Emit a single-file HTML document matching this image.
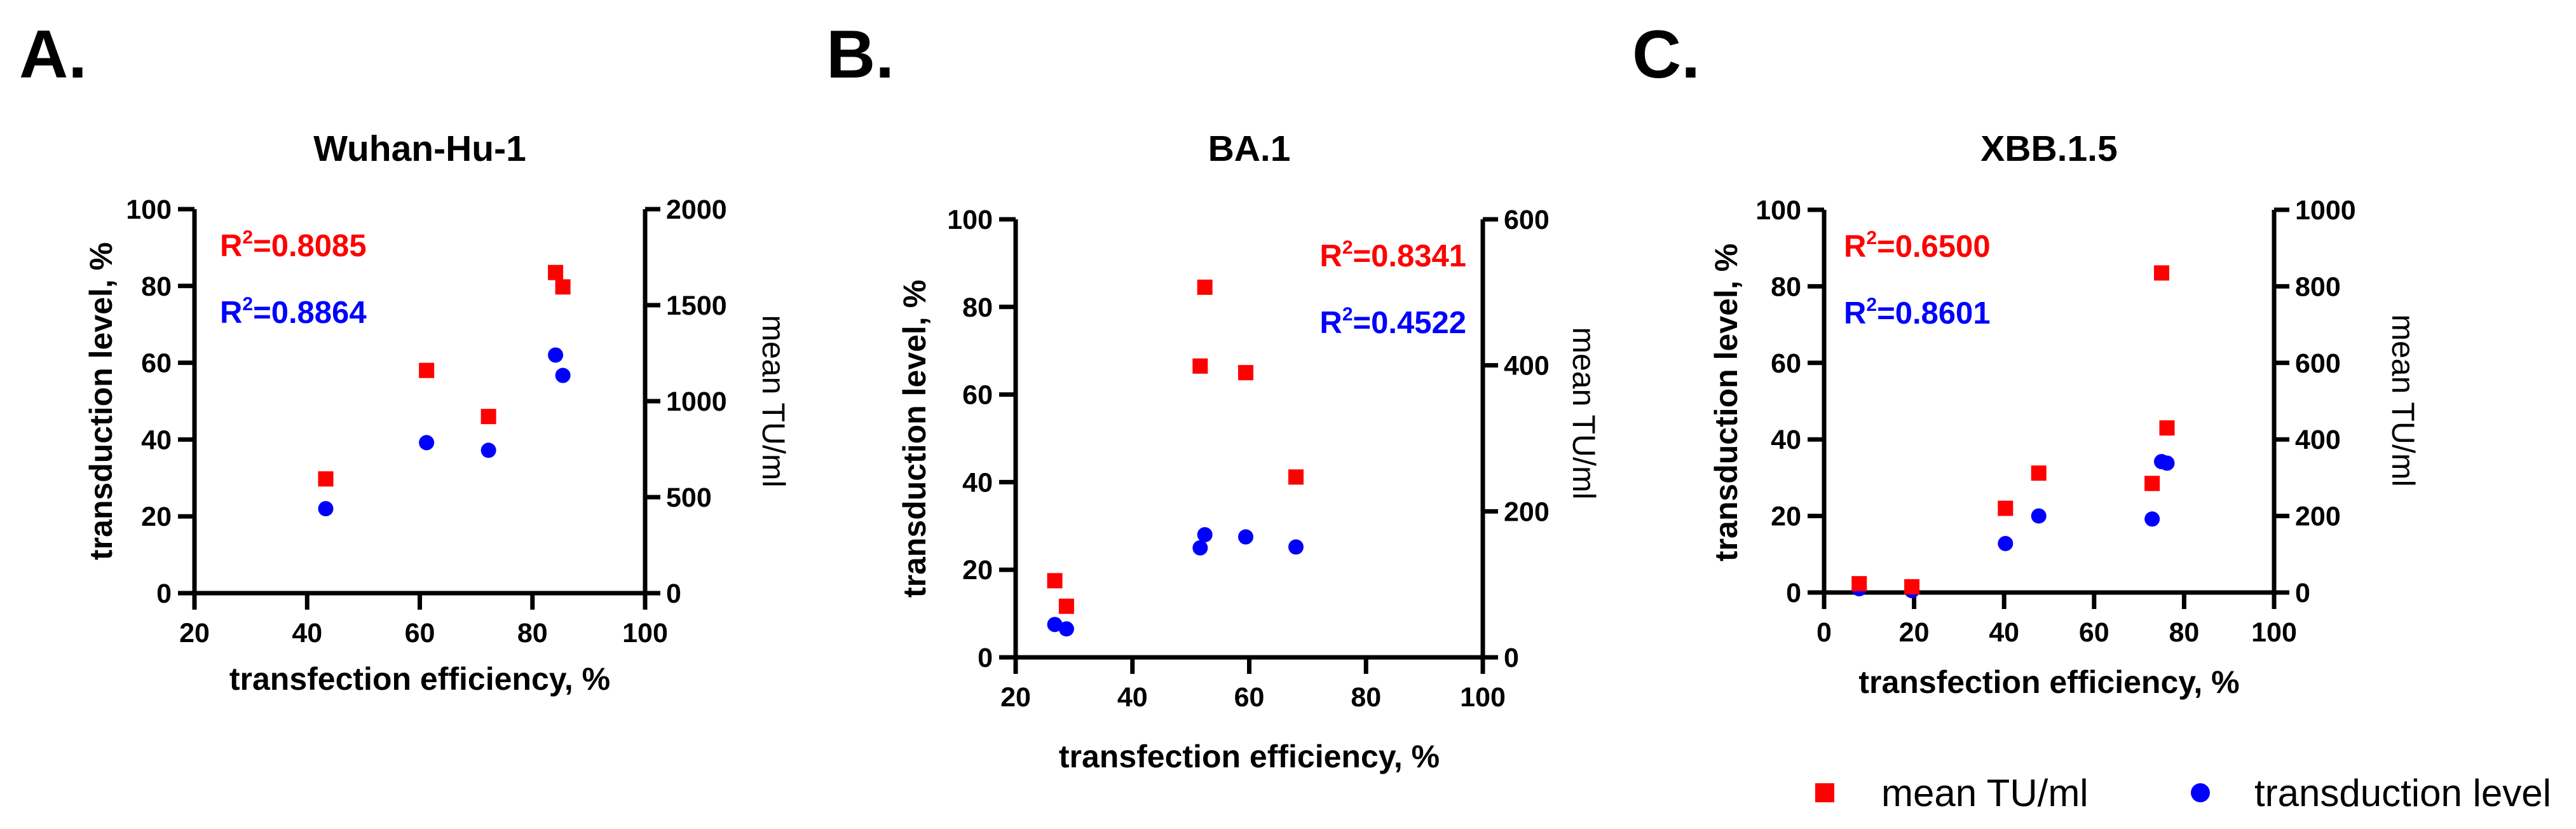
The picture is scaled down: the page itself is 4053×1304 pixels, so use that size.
<!DOCTYPE html>
<html><head><meta charset="utf-8"><style>
html,body{margin:0;padding:0;background:#fff;}
svg{display:block;font-family:"Liberation Sans",Arial,sans-serif;}
</style></head><body>
<svg id="fig" width="4053" height="1304" viewBox="0 0 4053 1304" xmlns="http://www.w3.org/2000/svg">
<rect width="4053" height="1304" fill="#fff"/>
<text x="30" y="122" font-size="107" font-weight="bold">A.</text>
<text x="1300" y="122" font-size="107" font-weight="bold">B.</text>
<text x="2568" y="122" font-size="107" font-weight="bold">C.</text>
<g>
<rect x="2856" y="1232" width="30" height="30" fill="#ff0000"/>
<text x="2960" y="1268" font-size="60">mean TU/ml</text>
<circle cx="3462" cy="1247" r="15" fill="#0000ff"/>
<text x="3547" y="1268" font-size="60">transduction level</text>
</g>
</svg>
<script>
// Panel A: Wuhan-Hu-1
const aX = [43.3, 61.2, 72.2, 84.1, 85.4];
const aBlue = [22, 39.2, 37.2, 62, 56.7];
const aRed = [595, 1160, 920, 1670, 1595];
// Panel B: BA.1
const bX = [26.7, 28.7, 51.6, 52.4, 59.4, 68];
const bBlue = [7.5, 6.5, 25, 28, 27.5, 25.2];
const bRed = [105, 70, 399, 507, 390, 247];
// Panel C: XBB.1.5
const cX = [7.8, 19.5, 40.3, 47.7, 72.9, 75, 76.2];
const cBlue = [1, 0.5, 12.8, 20, 19.2, 34.2, 33.8];
const cRed = [23, 15, 220, 312, 285, 835, 430];
const leftTicks = [0, 20, 40, 60, 80, 100];
const aXTicks = [20, 40, 60, 80, 100];
const bXTicks = [20, 40, 60, 80, 100];
const cXTicks = [0, 20, 40, 60, 80, 100];
const aRightTicks = [0, 500, 1000, 1500, 2000];
const bRightTicks = [0, 200, 400, 600];
const cRightTicks = [0, 200, 400, 600, 800, 1000];
const titles = ["Wuhan-Hu-1", "BA.1", "XBB.1.5"];
const r2Red = ["0.8085", "0.8341", "0.6500"];
const r2Blue = ["0.8864", "0.4522", "0.8601"];

const NS = "http://www.w3.org/2000/svg";
const svg = document.getElementById("fig");
function mk(tag, attrs, parent) {
  const e = document.createElementNS(NS, tag);
  for (const k in attrs) e.setAttribute(k, attrs[k]);
  (parent || svg).appendChild(e);
  return e;
}
const panels = [
  {id:"a", x0:306, x1:1015, y0:933, y1:329, xmin:20, xmax:100, rmax:2000, xs:aX, blue:aBlue, red:aRed, xt:aXTicks, rt:aRightTicks,
   ytx:176, ytc:631, rtx:1200, rtc:631, r2x:346, r2anchor:"start", xtitleY:1085, title:titles[0], r2r:r2Red[0], r2b:r2Blue[0]},
  {id:"b", x0:1598, x1:2333, y0:1034, y1:345, xmin:20, xmax:100, rmax:600, xs:bX, blue:bBlue, red:bRed, xt:bXTicks, rt:bRightTicks,
   ytx:1456, ytc:690, rtx:2475, rtc:650, r2x:2307, r2anchor:"end", xtitleY:1207, title:titles[1], r2r:r2Red[1], r2b:r2Blue[1]},
  {id:"c", x0:2870, x1:3578, y0:932, y1:330, xmin:0, xmax:100, rmax:1000, xs:cX, blue:cBlue, red:cRed, xt:cXTicks, rt:cRightTicks,
   ytx:2733, ytc:633, rtx:3764, rtc:630, r2x:2901, r2anchor:"start", xtitleY:1090, title:titles[2], r2r:r2Red[2], r2b:r2Blue[2]}
];
panels.forEach(p => {
  const g = mk("g", {});
  
  
  const sx = v => p.x0 + (v - p.xmin) / (p.xmax - p.xmin) * (p.x1 - p.x0);
  const sy = v => p.y0 + v / 100 * (p.y1 - p.y0);
  const sr = v => p.y0 + v / p.rmax * (p.y1 - p.y0);
  const cx = (p.x0 + p.x1) / 2;
  const t = mk("text", {x:cx, y:253, "font-size":57, "font-weight":"bold", "text-anchor":"middle"}, g);
  t.textContent = p.title;
  
  
  const axes = mk("path", {d:`M${p.x0},${p.y1}V${p.y0}H${p.x1}V${p.y1}`, fill:"none", stroke:"#000", "stroke-width":7}, g);
  
  
  leftTicks.forEach(v => {
    const y = sy(v);
    const tk = mk("line", {x1:p.x0 - 26, x2:p.x0, y1:y, y2:y, stroke:"#000", "stroke-width":7}, g);
    
    
    const lb = mk("text", {x:p.x0 - 36, y:y + 15, "font-size":43, "font-weight":"bold", "text-anchor":"end"}, g);
    lb.textContent = v;
    
    
  });
  p.rt.forEach(v => {
    const y = sr(v);
    const tk = mk("line", {x1:p.x1, x2:p.x1 + 24, y1:y, y2:y, stroke:"#000", "stroke-width":7}, g);
    
    
    const lb = mk("text", {x:p.x1 + 33, y:y + 15, "font-size":43, "font-weight":"bold"}, g);
    lb.textContent = v;
    
    
  });
  p.xt.forEach(v => {
    const x = sx(v);
    const tk = mk("line", {x1:x, x2:x, y1:p.y0, y2:p.y0 + 26, stroke:"#000", "stroke-width":7}, g);
    
    
    const lb = mk("text", {x:x, y:p.y0 + 77, "font-size":43, "font-weight":"bold", "text-anchor":"middle"}, g);
    lb.textContent = v;
    
    
  });
  const xt = mk("text", {x:cx, y:p.xtitleY, "font-size":50, "font-weight":"bold", "text-anchor":"middle"}, g);
  xt.textContent = "transfection efficiency, %";
  
  
  const yt = mk("text", {x:0, y:0, "font-size":50, "font-weight":"bold", "text-anchor":"middle", transform:`translate(${p.ytx},${p.ytc}) rotate(-90)`}, g);
  yt.textContent = "transduction level, %";
  
  
  const rt = mk("text", {x:0, y:0, "font-size":50, "text-anchor":"middle", transform:`translate(${p.rtx},${p.rtc}) rotate(90)`}, g);
  rt.textContent = "mean TU/ml";
  
  
  [[p.r2r, "#ff0000", p.y1 + 74, 'r2-mean-tu'], [p.r2b, "#0000ff", p.y1 + 179, 'r2-transduction']].forEach(([val, col, yy, nm]) => {
    const tx = mk("text", {x:p.r2x, y:yy, "font-size":49, "font-weight":"bold", fill:col, "text-anchor":p.r2anchor}, g);
    
    
    const s1 = mk("tspan", {}, tx); s1.textContent = "R";
    const s2 = mk("tspan", {dy:-20, "font-size":30}, tx); s2.textContent = "2";
    const s3 = mk("tspan", {dy:20}, tx); s3.textContent = "=" + val;
  });
  p.xs.forEach((xv, i) => {
    const c = mk("circle", {cx:sx(xv), cy:sy(p.blue[i]), r:12, fill:"#0000ff"}, g);
    
    
  });
  p.xs.forEach((xv, i) => {
    const r = mk("rect", {x:sx(xv) - 12, y:sr(p.red[i]) - 12, width:24, height:24, fill:"#ff0000"}, g);
    
    
  });
});
</script>
</body></html>
